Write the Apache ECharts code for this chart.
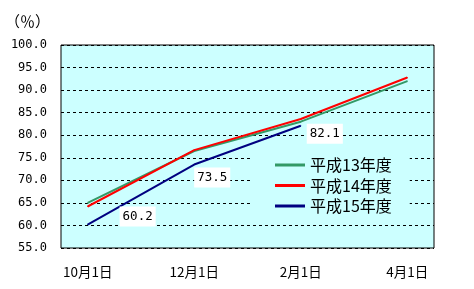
<!DOCTYPE html>
<html><head><meta charset="utf-8">
<script src="https://cdn.jsdelivr.net/npm/echarts@6/dist/echarts.min.js"></script>
<style>html,body{margin:0;padding:0;background:#fff}#c{width:474px;height:289px}</style>
</head><body><div id="c"></div>
<script>
var categories = ['10月1日','11月1日','12月1日','1月1日','2月1日','3月1日','4月1日'];
var seriesNames = ['平成13年度','平成14年度','平成15年度'];
var h13 = [65.0, null, 76.5, null, 83.0, null, 92.0];
var h14 = [64.2, null, 76.7, null, 83.6, null, 92.8];
var h15 = [60.2, null, 73.5, null, 82.1, null, null];
var yTicks = {min: 55, max: 100, interval: 5};

var labelOffsets = {0: [50, -8], 2: [18, 13], 4: [24, 8]};
var monoFont = '"DejaVu Sans Mono", "Liberation Mono", monospace';
var cjkFont = '"Noto Sans CJK JP", sans-serif';

function lineSeries(name, data, color, withLabels) {
  return {
    name: name, type: 'line', connectNulls: true,
    symbol: 'circle', symbolSize: 1,
    lineStyle: {color: color, width: 2},
    itemStyle: {color: color},
    emphasis: {disabled: true},
    z: 3,
    data: data.map(function (v, i) {
      if (v === null) return null;
      var o = {value: v};
      if (withLabels && labelOffsets[i]) {
        o.label = {
          show: true, position: 'inside', offset: labelOffsets[i],
          formatter: function (p) { return p.value.toFixed(1); },
          backgroundColor: '#fff', color: '#000',
          fontFamily: monoFont, fontSize: 12.5,
          padding: [4, 3, 3, 3]
        };
      }
      return o;
    })
  };
}

var chart = echarts.init(document.getElementById('c'), null, {renderer: 'canvas'});
chart.setOption({
  animation: false,
  backgroundColor: '#fff',
  grid: {left: 61, top: 45, right: 40, bottom: 41, show: true,
         backgroundColor: '#CCFFFF', borderColor: '#000', borderWidth: 1},
  graphic: [{type: 'text', left: 5, top: 14,
    style: {text: '（％）', font: '15px ' + cjkFont, fill: '#000'}}],
  legend: {
    orient: 'vertical', left: 250, top: 150,
    padding: [7, 18, 7, 25], backgroundColor: '#CCFFFF',
    itemWidth: 30, itemHeight: 3, itemGap: 4.5, icon: 'rect',
    textStyle: {fontFamily: cjkFont, fontSize: 16, lineHeight: 16, color: '#000'},
    data: seriesNames
  },
  xAxis: {
    type: 'category', data: categories, boundaryGap: true,
    axisLine: {show: false}, axisTick: {show: false},
    axisLabel: {interval: 1, margin: 17, fontFamily: cjkFont, fontSize: 13.5, color: '#000'},
    splitLine: {show: false}
  },
  yAxis: {
    type: 'value', min: yTicks.min, max: yTicks.max, interval: yTicks.interval,
    axisLine: {show: false}, axisTick: {show: false},
    axisLabel: {margin: 14, fontFamily: monoFont, fontSize: 12, color: '#000',
      formatter: function (v) { return v.toFixed(1); }},
    splitLine: {show: true, lineStyle: {color: '#000', width: 1, type: [3, 3]}}
  },
  series: [
    lineSeries(seriesNames[0], h13, '#339966', false),
    lineSeries(seriesNames[1], h14, '#FF0000', false),
    lineSeries(seriesNames[2], h15, '#000080', true)
  ]
});
</script></body></html>
